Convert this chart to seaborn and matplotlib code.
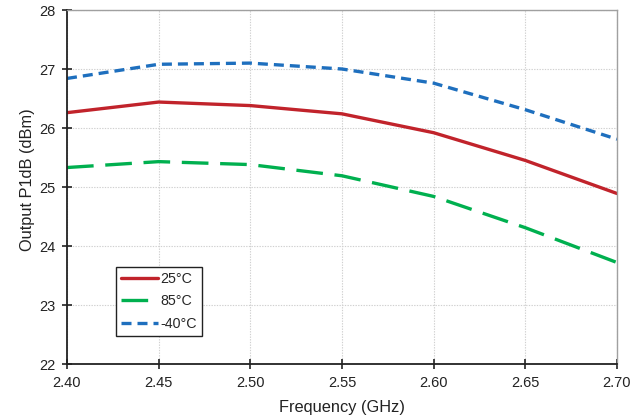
import numpy as np
import pandas as pd
import matplotlib
matplotlib.use("Agg")
import matplotlib.pyplot as plt
import seaborn as sns

freq = [2.40, 2.45, 2.50, 2.55, 2.60, 2.65, 2.70]
p_25 = [26.26, 26.44, 26.38, 26.24, 25.92, 25.45, 24.89]
p_85 = [25.33, 25.43, 25.38, 25.19, 24.84, 24.31, 23.72]
p_m40 = [26.84, 27.08, 27.10, 27.00, 26.76, 26.31, 25.81]
labels = ["25°C", "85°C", "-40°C"]
x_ticks = [2.40, 2.45, 2.50, 2.55, 2.60, 2.65, 2.70]
y_ticks = [22, 23, 24, 25, 26, 27, 28]

df = pd.DataFrame({
    "freq": freq * 3,
    "p1db": p_25 + p_85 + p_m40,
    "temp": [labels[0]] * 7 + [labels[1]] * 7 + [labels[2]] * 7,
})

sns.set_theme(style="white")
plt.rcParams['font.family'] = ['Liberation Sans', 'DejaVu Sans']

fig = plt.figure(figsize=(6.44, 4.19), dpi=100)
ax = fig.add_axes([67/644, 55/419, 550/644, 354/419])

palette = {labels[0]: "#C1232B", labels[1]: "#00B04F", labels[2]: "#1E6FBE"}
sns.lineplot(data=df, x="freq", y="p1db", hue="temp", palette=palette,
             linewidth=2.4, ax=ax, legend=True)
dash_styles = [(None, None), (8, 3.5), (3, 1.8)]
for line, d in zip(ax.lines[:3], dash_styles):
    if d[0] is None:
        line.set_linestyle("-")
    else:
        line.set_dashes(d)
    line.set_dash_capstyle("butt")

ax.set_xlim(2.40, 2.70)
ax.set_ylim(22, 28)
ax.set_xticks(x_ticks)
ax.set_xticklabels([f"{v:.2f}" for v in x_ticks])
ax.set_yticks(y_ticks)
ax.set_yticklabels([str(v) for v in y_ticks])
ax.grid(True, color="#D0D0D0", linestyle=(0, (1.2, 1.2)), linewidth=0.8)
ax.set_axisbelow(True)

for s in ["left", "bottom"]:
    ax.spines[s].set_color("#222222")
    ax.spines[s].set_linewidth(1.3)
for s in ["top", "right"]:
    ax.spines[s].set_color("#A0A0A0")
    ax.spines[s].set_linewidth(1.0)

ax.tick_params(axis="both", which="major", direction="inout", length=7, width=1.2,
               color="#222222", labelsize=10.5, labelcolor="#222222", bottom=True, left=True)
ax.tick_params(axis="x", pad=5)
ax.tick_params(axis="y", pad=5)
ax.set_xlabel("Frequency (GHz)", fontsize=11.8, color="#222222", labelpad=7)
ax.set_ylabel("Output P1dB (dBm)", fontsize=11.8, color="#222222")
ax.yaxis.set_label_coords(-0.058, 0.52)

handles = ax.lines[:3]
leg = ax.legend(handles, labels, loc="upper left", bbox_to_anchor=(0.089, 0.274),
                fontsize=10.3, frameon=True, fancybox=False, handlelength=2.6,
                handletextpad=0.15, borderpad=0.35, labelspacing=0.58, borderaxespad=0)
leg.get_frame().set_edgecolor("#222222")
leg.get_frame().set_linewidth(1.0)
leg.get_frame().set_alpha(1)

fig.savefig("out.png", dpi=100)
